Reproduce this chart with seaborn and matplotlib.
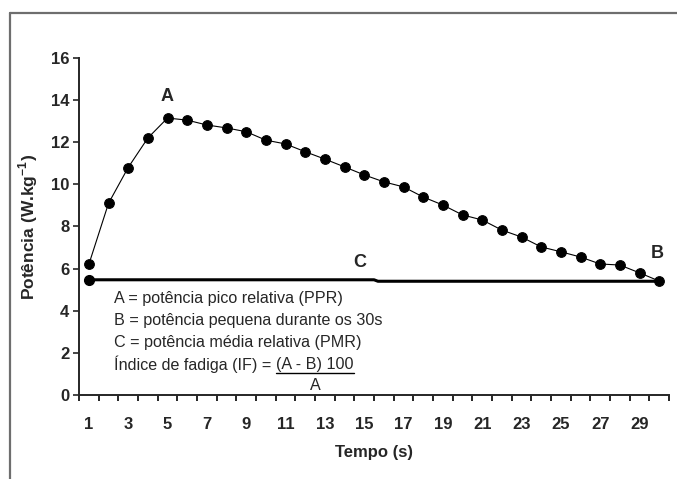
import matplotlib
matplotlib.use("Agg")
import matplotlib.pyplot as plt
import seaborn as sns
import pandas as pd
import numpy as np

tempo = list(range(1, 31))
potencia = [6.2, 9.1, 10.8, 12.2, 13.15, 13.05, 12.82, 12.68, 12.5, 12.1,
            11.92, 11.55, 11.2, 10.83, 10.45, 10.12, 9.88, 9.4, 9.02, 8.55,
            8.31, 7.83, 7.5, 7.03, 6.8, 6.55, 6.22, 6.17, 5.8, 5.41]
media_x = [1, 15.5, 15.7, 30]
media_y = [5.47, 5.47, 5.4, 5.4]
x_labels = list(range(1, 30, 2))
y_ticks = list(range(0, 17, 2))

legenda = ["A = potência pico relativa (PPR)",
           "B = potência pequena durante os 30s",
           "C = potência média relativa (PMR)"]
indice = "Índice de fadiga (IF) = "
numerador = "(A - B) 100"
denominador = "A"

sns.set_style("ticks")
plt.rcParams['font.family'] = ['Liberation Sans', 'DejaVu Sans']
plt.rcParams['mathtext.fontset'] = 'custom'
plt.rcParams['mathtext.rm'] = 'Liberation Sans'
plt.rcParams['mathtext.bf'] = 'Liberation Sans:bold'

df = pd.DataFrame({"Tempo": tempo, "Potencia": potencia})

fig = plt.figure(figsize=(6.77, 4.79), dpi=100)
ax = fig.add_axes([0.1167, 0.1754, 0.8715, 0.7035])

# moldura cinza
fig.add_artist(plt.Line2D([10 / 677, 10 / 677], [0, 1 - 13 / 479], color="#6e6e6e", lw=1.6))
fig.add_artist(plt.Line2D([10 / 677, 1], [1 - 13 / 479, 1 - 13 / 479], color="#6e6e6e", lw=1.6))

ax.plot(media_x, media_y, color="black", lw=2.2, marker="o", markersize=7,
        markevery=[0], zorder=2)
sns.lineplot(data=df, x="Tempo", y="Potencia", ax=ax, color="black", lw=0.8,
             marker="o", markersize=7, markeredgecolor="black", zorder=3)

ax.set_xlim(0.5, 30.5)
ax.set_ylim(0, 16)
ax.set_yticks(y_ticks)
ax.set_xticks(x_labels)
ax.set_xticks(np.arange(0.5, 31, 1), minor=True)
ax.tick_params(axis="x", which="major", length=0, pad=16, labelsize=12)
ax.tick_params(axis="x", which="minor", length=4, width=1.2, color="black")
ax.tick_params(axis="y", length=4, width=1.2, pad=3, labelsize=12)
for lab in ax.get_xticklabels() + ax.get_yticklabels():
    lab.set_fontweight("bold")

for s in ["top", "right"]:
    ax.spines[s].set_visible(False)
for s in ["left", "bottom"]:
    ax.spines[s].set_linewidth(1.4)

ax.set_xlabel("Tempo (s)", fontsize=12, fontweight="bold", labelpad=9)
ax.set_ylabel("Potência (W.kg$^{\\mathbf{-1}}$)", fontsize=12.5, fontweight="bold", labelpad=8)

ax.text(4.97, 14.15, "A", fontsize=13, fontweight="bold", ha="center", va="center")
ax.text(29.9, 6.74, "B", fontsize=13, fontweight="bold", ha="center", va="center")
ax.text(14.8, 6.27, "C", fontsize=13, fontweight="bold", ha="center", va="center")

fs = 11.6
for i, t in enumerate(legenda):
    ax.text(2.3, 4.56 - i * 1.03, t, fontsize=fs, ha="left", va="center")
t_ind = ax.text(2.3, 4.56 - 3 * 1.03, indice, fontsize=fs, ha="left", va="center")

fig.canvas.draw()
inv = ax.transData.inverted()
bb = t_ind.get_window_extent()
x_num = inv.transform((bb.x1, bb.y0))[0]
t_num = ax.text(x_num, 4.56 - 3 * 1.03, numerador, fontsize=fs, ha="left", va="center")
fig.canvas.draw()
bb2 = t_num.get_window_extent()
x0 = inv.transform((bb2.x0, 0))[0]
x1 = inv.transform((bb2.x1, 0))[0]
ax.plot([x0, x1], [1.05, 1.05], color="black", lw=1)
ax.text((x0 + x1) / 2, 0.47, denominador, fontsize=fs, ha="center", va="center")

fig.savefig("out.png", dpi=100)
